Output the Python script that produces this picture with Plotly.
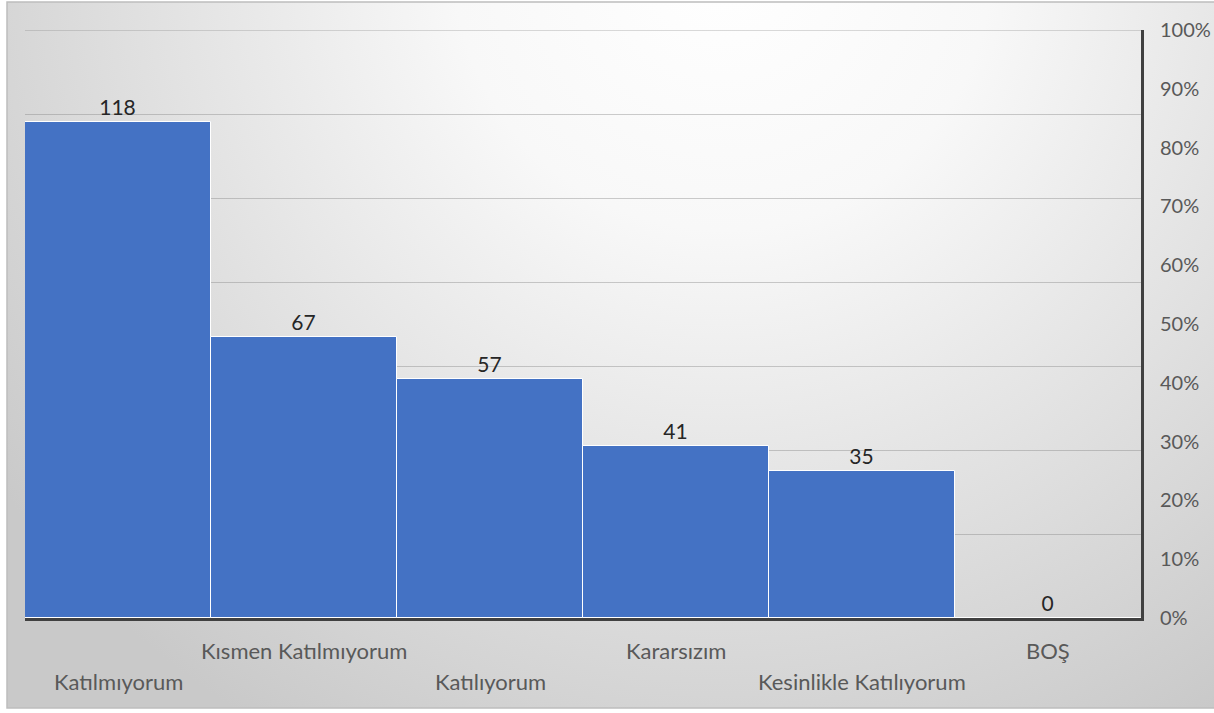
import base64
import plotly.graph_objects as go

categories = ["Katılmıyorum", "Kısmen Katılmıyorum", "Katılıyorum", "Kararsızım",
              "Kesinlikle Katılıyorum", "BOŞ"]
counts = [118, 67, 57, 41, 35, 0]
pct_ticks = [0, 0.1, 0.2, 0.3, 0.4, 0.5, 0.6, 0.7, 0.8, 0.9, 1.0]

W, H = 1214, 713
L, R, T, B = 25, 73, 30, 95
pw, ph = W - L - R, H - T - B

FONT = "Lato"

svg = f'''<svg xmlns="http://www.w3.org/2000/svg" width="{W}" height="{H}" viewBox="0 0 {W} {H}" preserveAspectRatio="none">
<defs><radialGradient id="g" gradientUnits="userSpaceOnUse" cx="720" cy="-40" r="900">
<stop offset="0" stop-color="#ffffff"/><stop offset="0.3" stop-color="#f8f8f8"/>
<stop offset="1" stop-color="#c9c9c9"/></radialGradient></defs>
<rect x="0" y="0" width="{W}" height="{H}" fill="url(#g)"/></svg>'''
src = "data:image/svg+xml;base64," + base64.b64encode(svg.encode()).decode()

def px_x(p):
    return (p - L) / pw

def px_y(p):
    return (H - B - p) / ph

GRID = "rgba(130,130,130,0.4)"

fig = go.Figure()
fig.add_trace(go.Bar(
    x=categories, y=counts, text=[str(v) for v in counts],
    textposition="outside", cliponaxis=False,
    textfont=dict(family=FONT, size=21, color="#262626"),
    marker=dict(color="#4472C4", line=dict(color="#ffffff", width=1)),
    showlegend=False, hoverinfo="skip",
))
# empty trace so that the right-hand percentage axis is drawn
fig.add_trace(go.Scatter(x=categories, y=[None] * len(categories), yaxis="y2",
                         mode="lines", showlegend=False, hoverinfo="skip"))

annotations = []
for i, c in enumerate(categories):
    annotations.append(dict(
        x=c, xref="x", yref="paper",
        y=px_y(681) if i % 2 == 0 else px_y(650),
        text=c, showarrow=False, yanchor="middle", xanchor="center",
        font=dict(family=FONT, size=22, color="#595959"),
    ))

fig.update_layout(
    width=W, height=H,
    margin=dict(l=L, r=R, t=T, b=B, autoexpand=False),
    paper_bgcolor="#ffffff", plot_bgcolor="rgba(0,0,0,0)",
    bargap=0,
    images=[dict(source=src, xref="paper", yref="paper",
                 x=px_x(7), y=px_y(2), sizex=px_x(W) - px_x(7), sizey=px_y(2) - px_y(708),
                 sizing="stretch", layer="below", xanchor="left", yanchor="top")],
    shapes=[dict(type="rect", xref="paper", yref="paper",
                 x0=px_x(7), x1=px_x(W + 5), y0=px_y(708), y1=px_y(2),
                 line=dict(color="#bdbdbd", width=1.5), layer="below"),
            dict(type="line", xref="paper", yref="y", x0=0, x1=1, y0=140, y1=140,
                 line=dict(color=GRID, width=1.3), layer="below")],
    annotations=annotations,
    xaxis=dict(showticklabels=False, ticks="", showgrid=False,
               showline=True, linecolor="#404040", linewidth=3,
               range=[-0.5, len(categories) - 0.5]),
    yaxis=dict(range=[0, 140], dtick=20, showticklabels=False, ticks="",
               showgrid=True, gridcolor=GRID, gridwidth=1.3,
               zeroline=False, showline=False),
    yaxis2=dict(overlaying="y", side="right", range=[0, 1],
                tickvals=pct_ticks, tickformat=".0%", automargin=False,
                showgrid=False, zeroline=False,
                showline=True, linecolor="#404040", linewidth=3,
                ticks="", ticklabelstandoff=12,
                tickfont=dict(family=FONT, size=20, color="#595959")),
    font=dict(family=FONT),
)

fig.write_html("out.html", config={"displayModeBar": False},
               post_script="document.body.style.margin='0';")
